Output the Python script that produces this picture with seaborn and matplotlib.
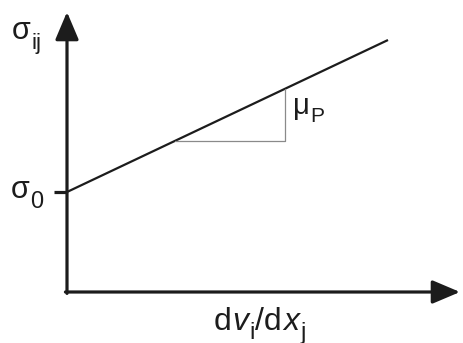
import matplotlib
matplotlib.use("Agg")
import matplotlib.pyplot as plt
import numpy as np
import pandas as pd
import seaborn as sns

# Bingham-type flow curve: stress = yield stress + plastic viscosity * shear rate
sigma0 = 1.0          # yield stress (intercept)
mu_p = 0.4735         # plastic viscosity (slope)
rate_range = [0.0, 3.21]
slope_run = [1.08, 2.18]   # horizontal leg of the slope triangle

sns.set_theme(style="white")
plt.rcParams["font.family"] = ["Liberation Sans", "DejaVu Sans"]

ink = "#1c1c1c"

fig = plt.figure(figsize=(4.63, 3.43), dpi=100)
ax = fig.add_axes([67 / 463, 51 / 343, 393 / 463, 280 / 343])
ax.set_xlim(0, 3.93)
ax.set_ylim(0, 2.8)
ax.set_axis_off()

# flow curve
rate = np.array(rate_range)
curve = pd.DataFrame({"rate": rate, "stress": sigma0 + mu_p * rate})
sns.lineplot(data=curve, x="rate", y="stress", ax=ax, color=ink, lw=1.6,
             solid_capstyle="butt")

# slope triangle
x1, x2 = slope_run
y1, y2 = sigma0 + mu_p * x1, sigma0 + mu_p * x2
ax.plot([x1, x2, x2], [y1, y1, y2], color="#8a8a8a", lw=0.9)

# axes with arrow heads
arrow_style = "-|>,head_length=0.85,head_width=0.36"
ax.annotate("", xy=(1, 0), xytext=(-0.004, 0), xycoords="axes fraction",
            arrowprops=dict(arrowstyle=arrow_style, lw=2.3, color=ink,
                            mutation_scale=20, shrinkA=0, shrinkB=0))
ax.annotate("", xy=(0, 1), xytext=(0, -0.005), xycoords="axes fraction",
            arrowprops=dict(arrowstyle=arrow_style, lw=2.3, color=ink,
                            mutation_scale=20, shrinkA=0, shrinkB=0))

# yield stress tick
ax.plot([-0.13, 0], [sigma0, sigma0], color=ink, lw=2.3, clip_on=False,
        solid_capstyle="butt")


def chained(x, y, pieces):
    """Write text pieces one after another; each piece is (text, style, dy_pts, size, gap_pts)."""
    prev = None
    base_dy = 0
    for txt, style, dy, sz, gap in pieces:
        if prev is None:
            t = ax.text(x, y, txt, fontsize=sz, fontstyle=style, color=ink,
                        ha="left", va="baseline", clip_on=False)
        else:
            t = ax.annotate(txt, xy=(1, 0), xycoords=prev,
                            xytext=(gap, -(dy - base_dy)), textcoords="offset points",
                            fontsize=sz, fontstyle=style, color=ink,
                            ha="left", va="bottom", annotation_clip=False)
        prev = t
        base_dy = dy
    return prev


def px_to_data(px, py):
    return (px - 67) / 100, (292 - py) / 100


# labels
sx, sy = px_to_data(12, 39)
chained(sx, sy, [("σ", "normal", 0, 22, 0), ("ij", "normal", 6, 16, 0.3)])

sx, sy = px_to_data(11, 198)
chained(sx, sy, [("σ", "normal", 0, 22, 0), ("0", "normal", 6, 17, 0.3)])

sx, sy = px_to_data(293, 114)
chained(sx, sy, [("μ", "normal", 0, 21, 0), ("P", "normal", 4, 15, 0.3)])

sx, sy = px_to_data(214, 330)
chained(sx, sy, [("d", "normal", 0, 23, 0), ("v", "italic", 0, 23, 0.6),
                 ("i", "normal", 5, 17, 0.4), ("/d", "normal", 0, 23, 0.6),
                 ("x", "italic", 0, 23, 0.9), ("j", "normal", 5, 17, 1.0)])

fig.savefig("out.png", dpi=100)
